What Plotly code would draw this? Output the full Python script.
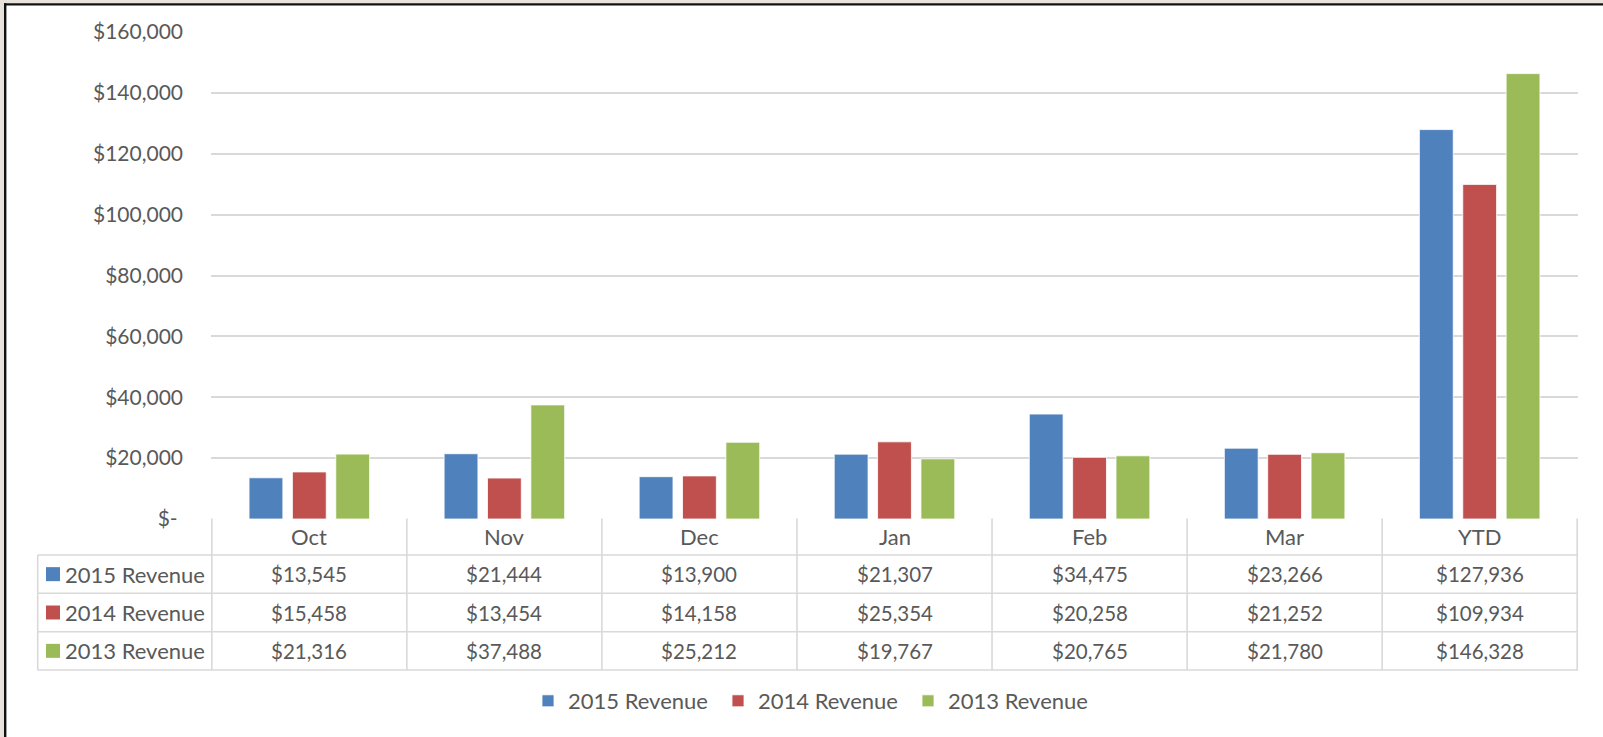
import plotly.graph_objects as go

categories = ["Oct", "Nov", "Dec", "Jan", "Feb", "Mar", "YTD"]
series_names = ["2015 Revenue", "2014 Revenue", "2013 Revenue"]
rev_2015 = [13545, 21444, 13900, 21307, 34475, 23266, 127936]
rev_2014 = [15458, 13454, 14158, 25354, 20258, 21252, 109934]
rev_2013 = [21316, 37488, 25212, 19767, 20765, 21780, 146328]
colors = ["#4F81BD", "#C0504D", "#9BBB59"]
y_tickvals = [0, 20000, 40000, 60000, 80000, 100000, 120000, 140000, 160000]
y_ticktext = ["$-\u00a0", "$20,000", "$40,000", "$60,000", "$80,000",
              "$100,000", "$120,000", "$140,000", "$160,000"]

W, H = 1603, 737
L, R, T, B = 211, 25, 32, 218
PW = W - L - R
PH = H - T - B
FONT = "Lato"
TXT = "#595959"
GRID = "#d9d9d9"
FS_NUM = 20.5
FS_TXT = 22


def px_x(p):
    return (p - L) / PW


def px_y(p):
    return (H - B - p) / PH


series = [rev_2015, rev_2014, rev_2013]

fig = go.Figure()
for name, vals, col in zip(series_names, series, colors):
    fig.add_trace(go.Bar(
        x=categories, y=vals, name=name,
        marker=dict(color=col, line=dict(color="white", width=0.8)),
    ))

shapes = []
annotations = []

# frame
shapes.append(dict(type="rect", xref="paper", yref="paper", x0=px_x(-2), x1=px_x(4),
                   y0=px_y(H + 2), y1=px_y(-2), fillcolor="#e7e2db", line=dict(width=0), layer="above"))
shapes.append(dict(type="rect", xref="paper", yref="paper", x0=px_x(-2), x1=px_x(W + 2),
                   y0=px_y(3.3), y1=px_y(-2), fillcolor="#e7e2db", line=dict(width=0), layer="above"))
shapes.append(dict(type="line", xref="paper", yref="paper", x0=px_x(5.2), x1=px_x(5.2),
                   y0=px_y(H + 2), y1=px_y(3.3), line=dict(color="#111111", width=2.4), layer="above"))
shapes.append(dict(type="line", xref="paper", yref="paper", x0=px_x(4), x1=px_x(W + 2),
                   y0=px_y(4.4), y1=px_y(4.4), line=dict(color="#111111", width=2.2), layer="above"))

# table grid
row_edges = [518.5, 555, 593.3, 631.7, 670]
tbl_left = 37.7
lw = 1.6
for i in range(len(categories) + 1):
    shapes.append(dict(type="line", xref="x", yref="paper", x0=i - 0.5, x1=i - 0.5,
                       y0=px_y(row_edges[0]), y1=px_y(row_edges[-1]),
                       line=dict(color=GRID, width=lw), layer="above"))
shapes.append(dict(type="line", xref="paper", yref="paper", x0=px_x(tbl_left), x1=px_x(tbl_left),
                   y0=px_y(row_edges[1]), y1=px_y(row_edges[-1]),
                   line=dict(color=GRID, width=lw), layer="above"))
for e in row_edges[1:]:
    shapes.append(dict(type="line", xref="paper", yref="paper", x0=px_x(tbl_left), x1=1,
                       y0=px_y(e), y1=px_y(e), line=dict(color=GRID, width=lw), layer="above"))

# header row
hy = (row_edges[0] + row_edges[1]) / 2
for c in categories:
    annotations.append(dict(x=c, xref="x", y=px_y(hy), yref="paper", text=c, showarrow=False,
                            xanchor="center", yanchor="middle", font=dict(family=FONT, size=FS_TXT, color=TXT)))
# data rows
for r, (name, vals, col) in enumerate(zip(series_names, series, colors)):
    cy = (row_edges[r + 1] + row_edges[r + 2]) / 2
    shapes.append(dict(type="rect", xref="paper", yref="paper", x0=px_x(46), x1=px_x(60),
                       y0=px_y(cy + 7), y1=px_y(cy - 7), fillcolor=col, line=dict(width=0), layer="above"))
    annotations.append(dict(x=px_x(63), xref="paper", y=px_y(cy), yref="paper", text=name, showarrow=False,
                            xanchor="left", yanchor="middle", font=dict(family=FONT, size=FS_TXT, color=TXT)))
    for c, v in zip(categories, vals):
        annotations.append(dict(x=c, xref="x", y=px_y(cy), yref="paper", text=f"${v:,}", showarrow=False,
                                xanchor="center", yanchor="middle", font=dict(family=FONT, size=FS_NUM, color=TXT)))

fig.update_layout(
    width=W, height=H,
    margin=dict(l=L, r=R, t=T, b=B, pad=0),
    paper_bgcolor="white", plot_bgcolor="white",
    barmode="group", bargap=0.333, bargroupgap=0.22,
    font=dict(family=FONT, size=FS_NUM, color=TXT),
    xaxis=dict(showticklabels=False, showgrid=False, zeroline=False, showline=False, ticks=""),
    yaxis=dict(range=[0, 160000], tickvals=y_tickvals, ticktext=y_ticktext, showgrid=True,
               gridcolor=GRID, gridwidth=1.6, zeroline=False, showline=False, ticks="",
               ticklabelstandoff=27, tickfont=dict(family=FONT, size=21, color=TXT)),
    legend=dict(orientation="h", x=px_x(813), xanchor="center", y=px_y(701), yanchor="middle",
                font=dict(family=FONT, size=FS_TXT, color=TXT), traceorder="normal",
                entrywidth=145, entrywidthmode="pixels", itemclick=False),
    shapes=shapes, annotations=annotations,
    showlegend=True,
)

fig.write_html("out.html", config={"displayModeBar": False},
               post_script="document.body.style.margin='0px';document.body.style.overflow='hidden';")
